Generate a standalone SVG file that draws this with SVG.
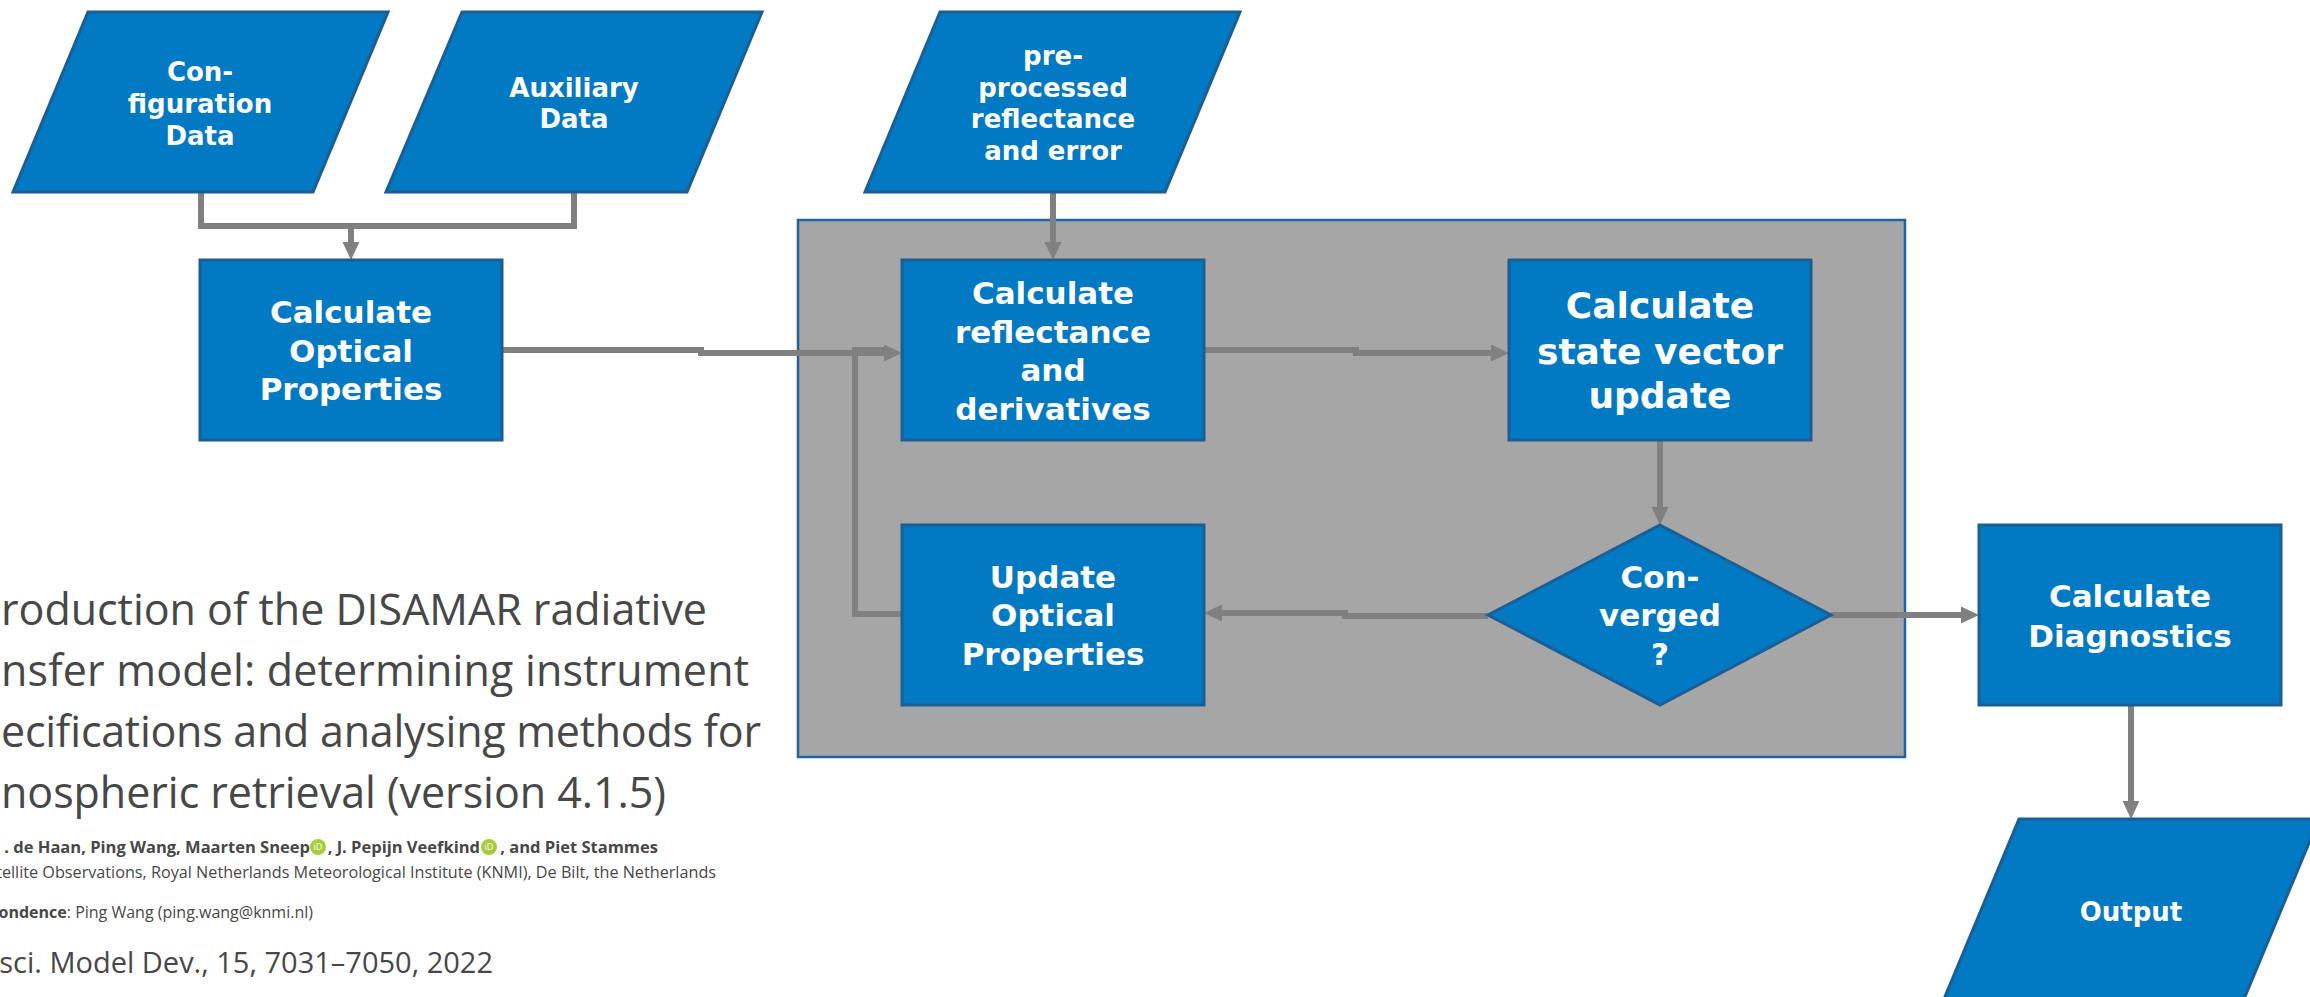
<svg xmlns="http://www.w3.org/2000/svg" width="2310" height="997" viewBox="0 0 2310 997">
  <defs>
    <style>
      .node { fill: #0279c3; stroke: #1b5e94; stroke-width: 3; }
      .group { fill: #a6a6a6; stroke: #1f64a0; stroke-width: 2.5; }
      .lbl { font-family: "DejaVu Sans", Verdana, sans-serif; font-weight: bold; fill: #ffffff; text-anchor: middle; }
      .s26 { font-size: 26px; }
      .s31 { font-size: 31px; }
      .s36 { font-size: 36px; }
      .link { fill: none; stroke: #808080; stroke-width: 6; }
      .title { font-family: "Open Sans", "Liberation Sans", sans-serif; fill: #474747; text-anchor: end; }
      .head { font-family: "Open Sans", "Liberation Sans", sans-serif; fill: #474747; font-size: 43px; }
      .orcid { fill: #a6ce39; }
      .orcid-t { font-family: "Open Sans", "Liberation Sans", sans-serif; font-size: 9px; fill: #ffffff; text-anchor: middle; }
    </style>
    <marker id="arrow" markerUnits="userSpaceOnUse" markerWidth="18" markerHeight="18" refX="8" refY="8.5" orient="auto">
      <path d="M0,0 L18,8.5 L0,17 z" fill="#808080"/>
    </marker>
  </defs>

  <rect width="2310" height="997" fill="#ffffff"/>

  <!-- iteration loop region -->
  <g id="retrieval-loop">
    <rect class="group" x="798" y="220" width="1107" height="537"/>
  </g>

  <!-- connectors -->
  <g id="connectors">
    <polyline class="link" points="201,192 201,226 574,226 574,192"/>
    <line class="link" x1="351" y1="226" x2="351" y2="250" marker-end="url(#arrow)"/>
    <line class="link" x1="1053" y1="192" x2="1053" y2="250" marker-end="url(#arrow)"/>
    <polyline class="link" points="502,350 701,350 701,353 892,353" marker-end="url(#arrow)"/>
    <polyline class="link" points="902,614 855,614 855,350 884,350"/>
    <polyline class="link" points="1204,350 1356,350 1356,353 1499,353" marker-end="url(#arrow)"/>
    <line class="link" x1="1660" y1="440" x2="1660" y2="515" marker-end="url(#arrow)"/>
    <polyline class="link" points="1488,616 1345,616 1345,613 1214,613" marker-end="url(#arrow)"/>
    <line class="link" x1="1831" y1="615" x2="1969" y2="615" marker-end="url(#arrow)"/>
    <line class="link" x1="2131" y1="705" x2="2131" y2="809" marker-end="url(#arrow)"/>
  </g>

  <!-- input data -->
  <g id="configuration-data">
    <polygon class="node" points="88,12 388,12 313,192 13,192"/>
    <text class="lbl s26" x="200" y="81">Con-</text>
    <text class="lbl s26" x="200" y="113">figuration</text>
    <text class="lbl s26" x="200" y="145">Data</text>
  </g>
  <g id="auxiliary-data">
    <polygon class="node" points="462,12 762,12 687,192 386,192"/>
    <text class="lbl s26" x="574" y="97">Auxiliary</text>
    <text class="lbl s26" x="574" y="128">Data</text>
  </g>
  <g id="preprocessed-reflectance">
    <polygon class="node" points="940,12 1240,12 1165,192 865,192"/>
    <text class="lbl s26" x="1053" y="65">pre-</text>
    <text class="lbl s26" x="1053" y="97">processed</text>
    <text class="lbl s26" x="1053" y="128">reflectance</text>
    <text class="lbl s26" x="1053" y="160">and error</text>
  </g>

  <!-- processing steps -->
  <g id="calculate-optical-properties">
    <rect class="node" x="200" y="260" width="302" height="180"/>
    <text class="lbl s31" x="351" y="323">Calculate</text>
    <text class="lbl s31" x="351" y="362">Optical</text>
    <text class="lbl s31" x="351" y="400">Properties</text>
  </g>
  <g id="calculate-reflectance">
    <rect class="node" x="902" y="260" width="302" height="180"/>
    <text class="lbl s31" x="1053" y="304">Calculate</text>
    <text class="lbl s31" x="1053" y="343">reflectance</text>
    <text class="lbl s31" x="1053" y="381">and</text>
    <text class="lbl s31" x="1053" y="420">derivatives</text>
  </g>
  <g id="calculate-state-vector">
    <rect class="node" x="1509" y="260" width="302" height="180"/>
    <text class="lbl s36" x="1660" y="318">Calculate</text>
    <text class="lbl s36" x="1660" y="364">state vector</text>
    <text class="lbl s36" x="1660" y="408">update</text>
  </g>
  <g id="converged">
    <polygon class="node" points="1660,525 1831,615 1660,705 1488,615"/>
    <text class="lbl s31" x="1660" y="588">Con-</text>
    <text class="lbl s31" x="1660" y="626">verged</text>
    <text class="lbl s31" x="1660" y="665">?</text>
  </g>
  <g id="update-optical-properties">
    <rect class="node" x="902" y="525" width="302" height="180"/>
    <text class="lbl s31" x="1053" y="588">Update</text>
    <text class="lbl s31" x="1053" y="626">Optical</text>
    <text class="lbl s31" x="1053" y="665">Properties</text>
  </g>
  <g id="calculate-diagnostics">
    <rect class="node" x="1979" y="525" width="302" height="180"/>
    <text class="lbl s31" x="2130" y="607">Calculate</text>
    <text class="lbl s31" x="2130" y="647">Diagnostics</text>
  </g>
  <g id="output">
    <polygon class="node" points="2019,819 2319,819 2244,999 1944,999"/>
    <text class="lbl s26" x="2131" y="921">Output</text>
  </g>

  <!-- publication reference -->
  <g id="reference">
    <text class="head" x="1" y="625" textLength="706" lengthAdjust="spacing">roduction of the DISAMAR radiative</text>
    <text class="head" x="1" y="686" textLength="748" lengthAdjust="spacing">nsfer model: determining instrument</text>
    <text class="head" x="1" y="747" textLength="760" lengthAdjust="spacing">ecifications and analysing methods for</text>
    <text class="head" x="1" y="808" textLength="665" lengthAdjust="spacing">nospheric retrieval (version 4.1.5)</text>

    <text class="title" font-size="16.5" font-weight="bold" x="310" y="853">. de Haan, Ping Wang, Maarten Sneep</text>
    <circle class="orcid" cx="318" cy="847" r="8"/>
    <text class="orcid-t" x="318" y="850">iD</text>
    <text class="title" font-size="16.5" font-weight="bold" x="480" y="853">, J. Pepijn Veefkind</text>
    <circle class="orcid" cx="489" cy="847" r="8"/>
    <text class="orcid-t" x="489" y="850">iD</text>
    <text class="title" font-size="16.5" font-weight="bold" x="658" y="853">, and Piet Stammes</text>

    <text class="title" font-size="16.2" x="716" y="878">tellite Observations, Royal Netherlands Meteorological Institute (KNMI), De Bilt, the Netherlands</text>
    <text class="title" font-size="16" x="313" y="918"><tspan font-weight="bold">ondence</tspan>: Ping Wang (ping.wang@knmi.nl)</text>
    <text class="title" font-size="29" x="493" y="973">sci. Model Dev., 15, 7031–7050, 2022</text>
  </g>
</svg>
